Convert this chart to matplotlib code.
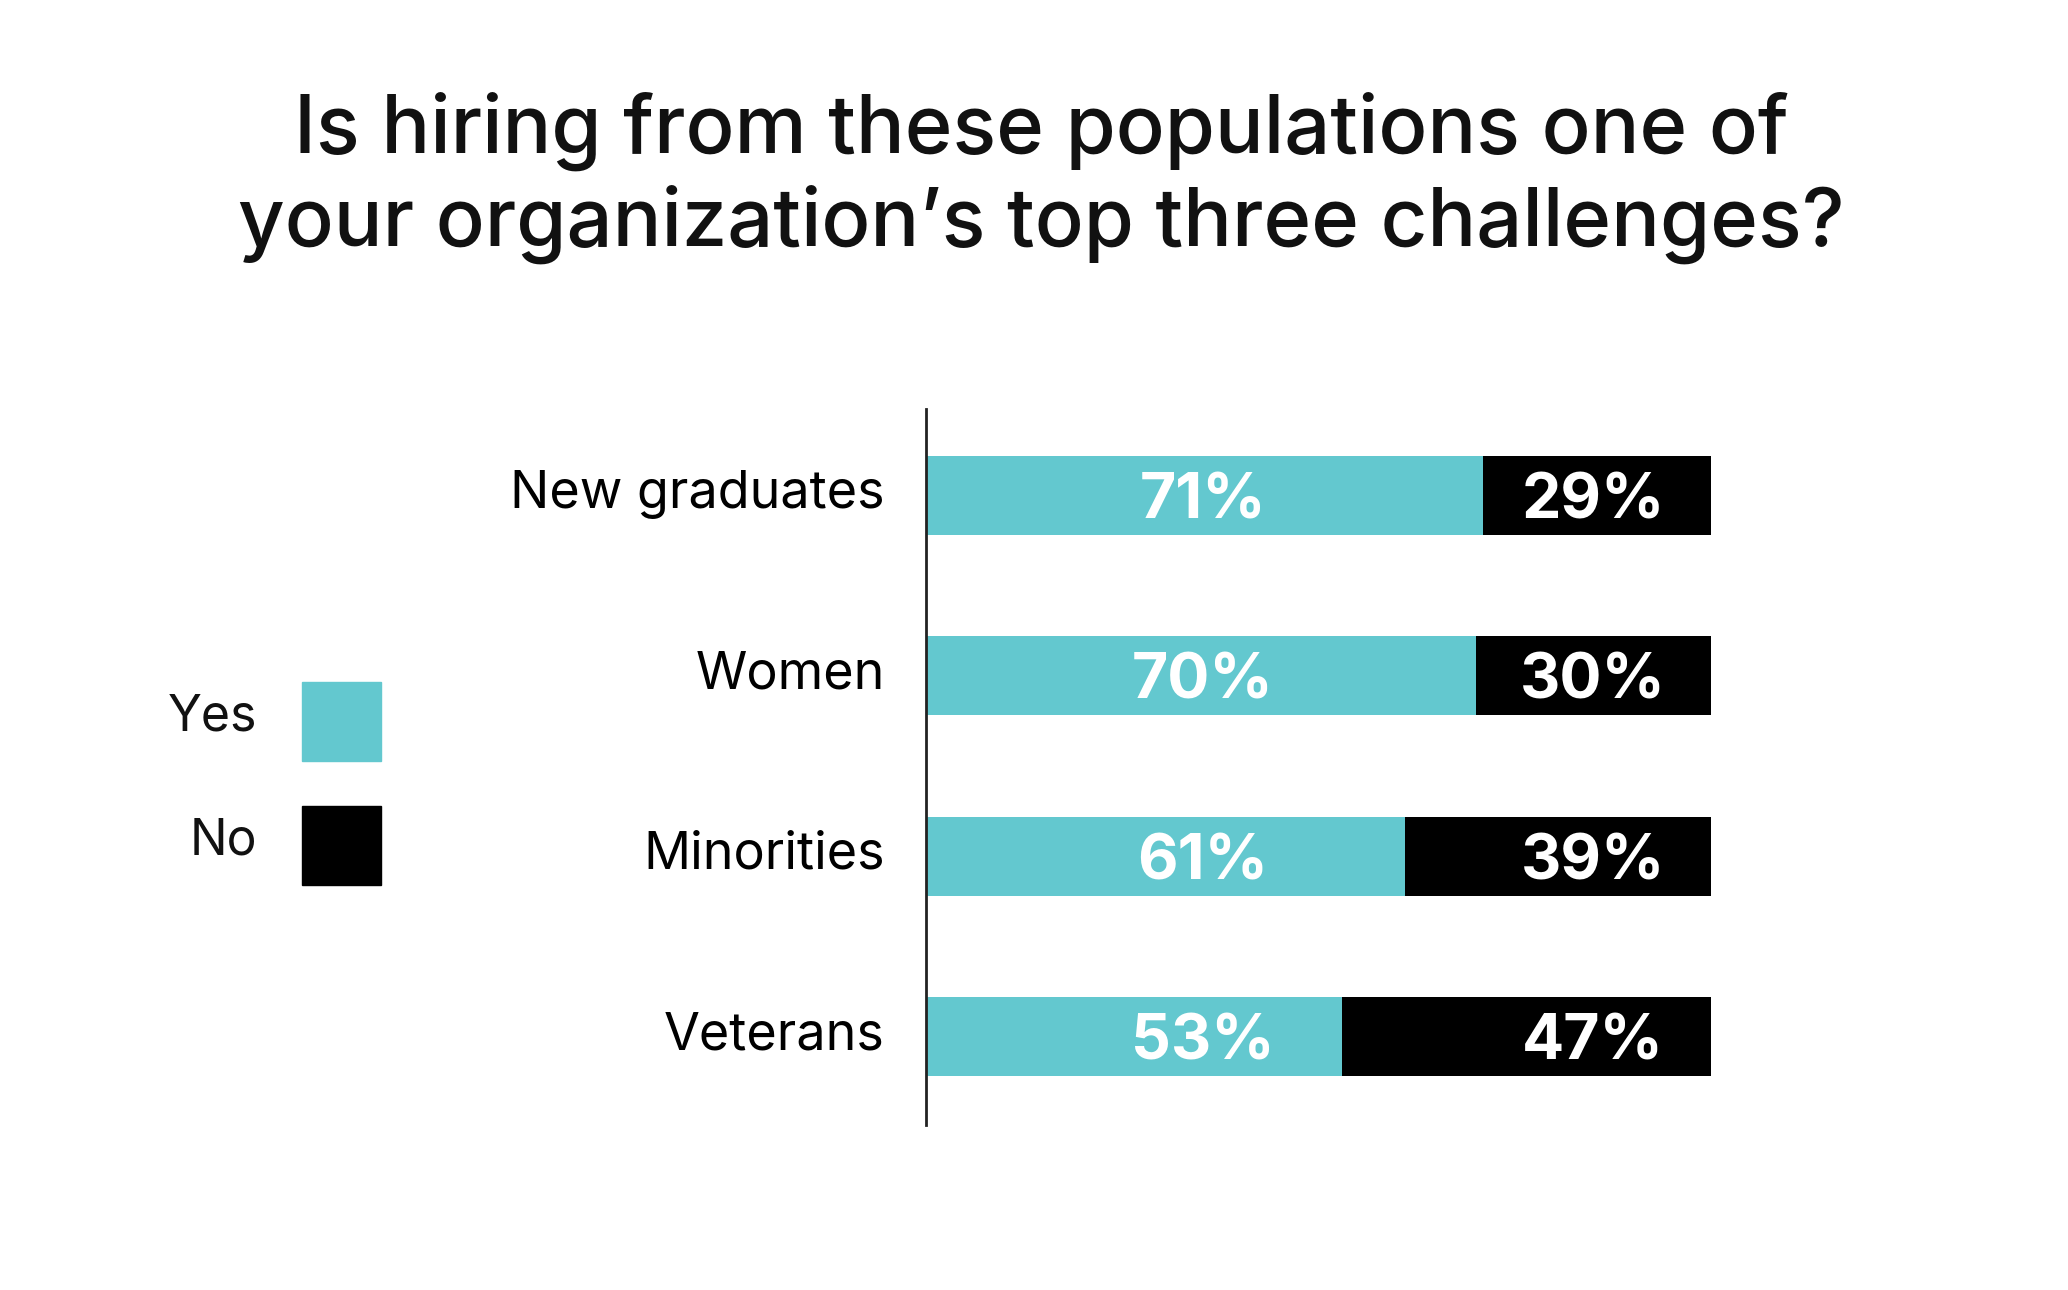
import matplotlib.pyplot as plt
from matplotlib.patches import Rectangle
from matplotlib.transforms import ScaledTranslation

# Data
categories = ["New graduates", "Women", "Minorities", "Veterans"]
yes_values = [71, 70, 61, 53]
no_values = [29, 30, 39, 47]
series_names = ["Yes", "No"]
series_colors = ["#63C8CF", "#000000"]

plt.rcParams['font.family'] = ['Inter', 'DejaVu Sans']

W, H = 2068, 1290
fig = plt.figure(figsize=(W / 100, H / 100), dpi=100)

# axes placed by pixel layout of the reference
ax_left, ax_right = 926, 1711
ax_top, ax_bottom = 409, 1125
ax = fig.add_axes([ax_left / W, 1 - ax_bottom / H,
                   (ax_right - ax_left) / W, (ax_bottom - ax_top) / H])

pos = list(range(len(categories)))
bar_h = 0.438
ax.barh(pos, yes_values, height=bar_h, color=series_colors[0])
ax.barh(pos, no_values, left=yes_values, height=bar_h, color=series_colors[1])

# value labels sit at fixed columns
for p, y, n in zip(pos, yes_values, no_values):
    ax.text(35.3, p + 0.035, f"{y}%", color="white", fontsize=45, fontweight="bold",
            ha="center", va="center")
    ax.text(85, p + 0.035, f"{n}%", color="white", fontsize=45, fontweight="bold",
            ha="center", va="center")

ax.set_xlim(0, 100)
ax.set_ylim(3.49, -0.48)
ax.set_yticks(pos)
ax.set_yticklabels(categories, fontsize=37.5)
ax.tick_params(axis="y", length=0, pad=29.5)
# nudge category labels up a little
up = ScaledTranslation(0, 0.065, fig.dpi_scale_trans)
for lbl in ax.get_yticklabels():
    lbl.set_transform(lbl.get_transform() + up)
ax.set_xticks([])
for s in ["top", "right", "bottom"]:
    ax.spines[s].set_visible(False)
ax.spines["left"].set_linewidth(2)
ax.spines["left"].set_color("#222222")

# title
fig.text(1041 / W, 1 - 178 / H,
         "Is hiring from these populations one of\nyour organization\u2019s top three challenges?",
         ha="center", va="center", fontsize=58.5, fontweight="medium",
         linespacing=1.22, color="#111111")

# legend drawn by hand: label left of swatch
sw_x, sw_size = 302, 79
sw_tops = [682, 806]
for name, col, top in zip(series_names, series_colors, sw_tops):
    fig.patches.append(Rectangle((sw_x / W, 1 - (top + sw_size) / H),
                                 sw_size / W, sw_size / H,
                                 transform=fig.transFigure, color=col))
    fig.text(257 / W, 1 - (top + 35) / H, name, ha="right", va="center",
             fontsize=36, color="#111111")

fig.savefig("out.png", dpi=100, facecolor="white")
